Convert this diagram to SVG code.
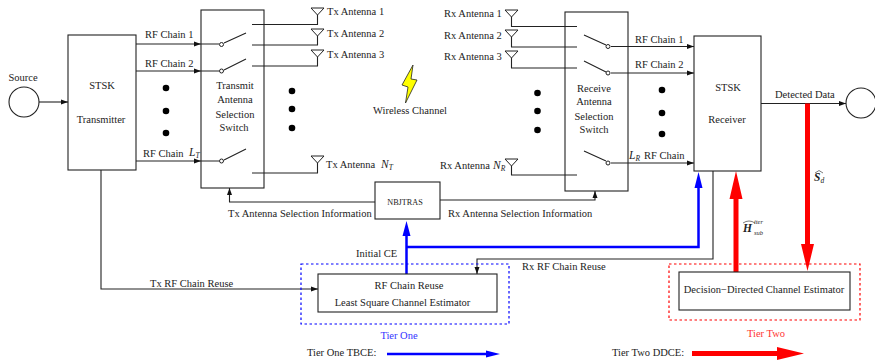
<svg xmlns="http://www.w3.org/2000/svg" width="875" height="360" viewBox="0 0 875 360">
<style>
text{font-family:"Liberation Serif","Times New Roman",serif;font-size:10.500px;fill:#222}
.m{text-anchor:middle}
.i{font-style:italic}
.n{font-size:11.500px}
.sub{font-size:7.500px}
.b{fill:#fff;stroke:#222;stroke-width:1.100}
.l{fill:none;stroke:#222;stroke-width:1.100}
.a{fill:#fff;stroke:#222;stroke-width:1}
.d{fill:#000}
.sw{fill:#fff;stroke:#222;stroke-width:1}
</style>
<defs>
<marker id="ah" markerUnits="userSpaceOnUse" markerWidth="8" markerHeight="6" refX="7" refY="3" orient="auto"><path d="M0,0.5L7,3L0,5.500z" fill="#111"/></marker>
<g id="ant"><path class="a" d="M-6.500,0H6.500L0,7z"/></g>
</defs>
<rect width="875" height="360" fill="#fff"/>
<g id="connectors">
<path class="l" d="M39,102H68" marker-end="url(#ah)"/>
<path class="l" d="M136,44H201" marker-end="url(#ah)"/>
<path class="l" d="M136,71H201" marker-end="url(#ah)"/>
<path class="l" d="M136,161H201" marker-end="url(#ah)"/>
<path class="l" d="M201,44H219M201,71H219M201,161H219"/>
<path class="l" d="M224,43L246,33M224,70L246,59M224,160L246,149"/>
<path class="l" d="M252,24.500H317.500V15M252,45H317.500V36M252,66H317.500V57M252,173H317.500V163"/>
<path class="l" d="M511.500,17V26.500H577M511.500,37V47H577M511.500,58V68H577M511.500,166V175H577"/>
<path class="l" d="M584,35L606,45M584,61L606,72M584,151L606,161"/>
<path class="l" d="M611,46.500H694" marker-end="url(#ah)"/>
<path class="l" d="M611,73H694" marker-end="url(#ah)"/>
<path class="l" d="M611,163H694" marker-end="url(#ah)"/>
<path class="l" d="M761,103.500H846" marker-end="url(#ah)"/>
<path class="l" d="M375,202H229.500V188" marker-end="url(#ah)"/>
<path class="l" d="M440,200H595V191" marker-end="url(#ah)"/>
<path class="l" d="M101,170V289H318" marker-end="url(#ah)"/>
<path class="l" d="M713,171V259H477V274" marker-end="url(#ah)"/>
<path fill="none" stroke="#00f" stroke-width="2.500" d="M406.500,274V234M406.500,247H698.500V186"/>
<path fill="#00f" d="M406.500,221L410.500,236H402.500zM698.500,172L702.500,188H694.500z"/>
<path fill="none" stroke="#f00" stroke-width="5" d="M736,272V196M807.500,103.500V246"/>
<path fill="#f00" d="M736,171L742.500,199H729.500zM807.500,271L801,244H814z"/>
<path fill="none" stroke="#00f" stroke-width="2.500" d="M387,354H490"/>
<path fill="#00f" d="M500,354L486,350.500V357.500z"/>
<path fill="none" stroke="#f00" stroke-width="5" d="M692,353.500H780"/>
<path fill="#f00" d="M804,353.500L777,347V360z"/>
</g>
<g id="source"><circle class="b" cx="24" cy="102" r="15"/><text class="m" x="23" y="81">Source</text></g>
<g id="transmitter"><rect class="b" x="68" y="35" width="68" height="135"/><text class="m" x="102" y="89">STSK</text><text class="m" x="101" y="123">Transmitter</text></g>
<g id="tx-switch"><rect x="201" y="10" width="63" height="178" fill="none" stroke="#222" stroke-width="1.100"/>
<circle class="sw" cx="221.500" cy="44.500" r="2"/><circle class="sw" cx="221.500" cy="71" r="2"/><circle class="sw" cx="221.500" cy="161" r="2"/>
<text class="m" x="235" y="89">Transmit</text><text class="m" x="235" y="103">Antenna</text><text class="m" x="235" y="118">Selection</text><text class="m" x="234" y="131">Switch</text></g>
<g id="tx-antennas"><use href="#ant" x="317.500" y="8"/><use href="#ant" x="317.500" y="29"/><use href="#ant" x="317.500" y="50"/><use href="#ant" x="317.500" y="156"/>
<text x="327" y="15">Tx Antenna 1</text><text x="327" y="37">Tx Antenna 2</text><text x="327" y="58">Tx Antenna 3</text><text x="326" y="168">Tx Antenna</text><text class="i n" x="381" y="168">N<tspan class="sub" dy="2">T</tspan></text></g>
<g id="rx-antennas"><use href="#ant" x="511.500" y="10"/><use href="#ant" x="511.500" y="30"/><use href="#ant" x="511.500" y="51"/><use href="#ant" x="511.500" y="159"/>
<text x="444" y="17">Rx Antenna 1</text><text x="444" y="39">Rx Antenna 2</text><text x="444" y="60">Rx Antenna 3</text><text x="440" y="169">Rx Antenna</text><text class="i n" x="493" y="169">N<tspan class="sub" dy="2">R</tspan></text></g>
<g id="wireless-channel"><path d="M413,65L402,85L408,87L405.500,103L417,80L411,79z" fill="#ff0" stroke="#222" stroke-width="0.800"/><text class="m" x="410" y="114">Wireless Channel</text></g>
<g id="rx-switch"><rect x="565" y="12" width="63" height="179" fill="none" stroke="#222" stroke-width="1.100"/>
<circle class="sw" cx="608" cy="46.500" r="2"/><circle class="sw" cx="608" cy="73" r="2"/><circle class="sw" cx="608" cy="163" r="2"/>
<text class="m" x="594" y="92">Receive</text><text class="m" x="594" y="105">Antenna</text><text class="m" x="594" y="120">Selection</text><text class="m" x="594" y="133">Switch</text></g>
<g id="receiver"><rect class="b" x="694" y="36" width="67" height="135"/><text class="m" x="728" y="91">STSK</text><text class="m" x="727" y="123">Receiver</text></g>
<g id="sink"><circle class="b" cx="861" cy="103" r="15"/></g>
<g id="nbjtras"><rect class="b" x="375" y="182" width="65" height="37"/><text class="m" x="405" y="205" style="font-size:8.200px">NBJTRAS</text></g>
<g id="ls-estimator"><rect class="b" x="318" y="274" width="179" height="38"/><text class="m" x="409" y="289">RF Chain Reuse</text><text class="m" x="402.500" y="306">Least Square Channel Estimator</text></g>
<g id="dd-estimator"><rect class="b" x="679" y="272" width="171" height="38"/><text class="m" x="764" y="293">Decision−Directed Channel Estimator</text></g>
<g id="tier-one"><rect x="301" y="264" width="208" height="60" fill="none" stroke="#00f" stroke-width="1.200" stroke-dasharray="2.500 2.500"/><text class="m" x="399" y="339" style="fill:#33f">Tier One</text></g>
<g id="tier-two"><rect x="669" y="264" width="191" height="56" fill="none" stroke="#f00" stroke-width="1.200" stroke-dasharray="2.500 2.500"/><text class="m" x="766" y="337" style="fill:#f33">Tier Two</text></g>
<g id="labels">
<circle class="d" cx="166" cy="88" r="3.300"/><circle class="d" cx="166" cy="111" r="3.300"/><circle class="d" cx="166" cy="133" r="3.300"/>
<circle class="d" cx="292" cy="91" r="3.300"/><circle class="d" cx="292" cy="109" r="3.300"/><circle class="d" cx="292" cy="128" r="3.300"/>
<circle class="d" cx="537.500" cy="93" r="3.300"/><circle class="d" cx="537.500" cy="111" r="3.300"/><circle class="d" cx="537.500" cy="130" r="3.300"/>
<circle class="d" cx="662" cy="90" r="3.300"/><circle class="d" cx="662" cy="113" r="3.300"/><circle class="d" cx="662" cy="134" r="3.300"/>
<text x="145" y="38">RF Chain 1</text><text x="145" y="67">RF Chain 2</text><text x="143" y="157">RF Chain</text><text class="i n" x="189" y="156">L<tspan class="sub" dy="2">T</tspan></text>
<text x="635" y="43">RF Chain 1</text><text x="635" y="68">RF Chain 2</text><text class="i n" x="629" y="159">L<tspan class="sub" dy="2">R</tspan></text><text x="644" y="159">RF Chain</text>
<text x="775" y="98">Detected Data</text>
<text x="228" y="217">Tx Antenna Selection Information</text><text x="448" y="217">Rx Antenna Selection Information</text>
<text x="356" y="257">Initial CE</text><text x="522" y="270">Rx RF Chain Reuse</text><text x="150" y="287">Tx RF Chain Reuse</text>
<text x="814" y="181" font-weight="bold" font-style="italic" style="font-size:11.500px">S<tspan class="sub" font-weight="normal" dy="2">d</tspan></text>
<path d="M815,173L819,170.500L823,173" fill="none" stroke="#222" stroke-width="0.600"/>
<text x="743" y="232" font-weight="bold" font-style="italic" style="font-size:11.500px">H</text>
<text x="754" y="224" class="i" style="font-size:6.500px">iter</text><text x="754" y="235" class="i" style="font-size:6.500px">sub</text>
<path d="M743,223Q749,219 755,223" fill="none" stroke="#222" stroke-width="0.600"/>
<text x="307" y="356">Tier One TBCE:</text><text x="612" y="356">Tier Two DDCE:</text>
</g>
</svg>
